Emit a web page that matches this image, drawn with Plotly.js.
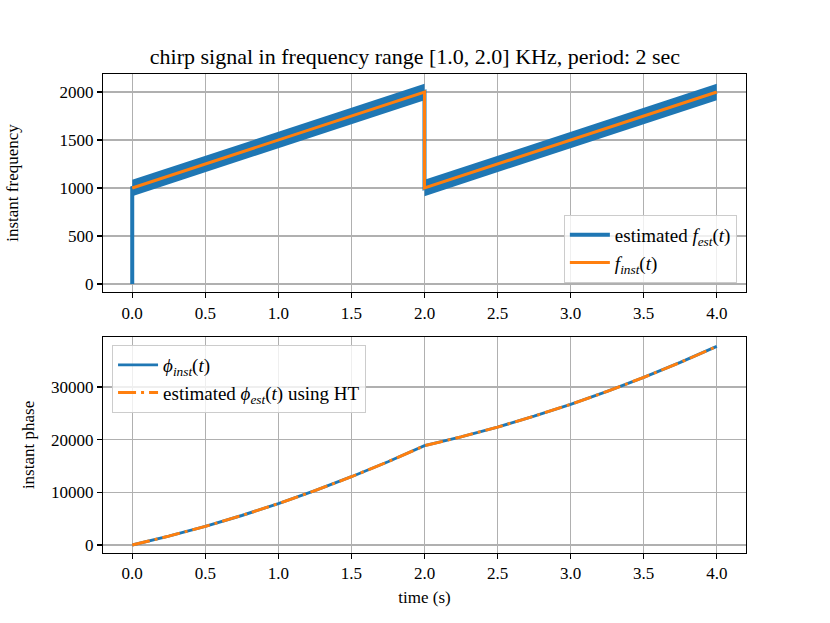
<!DOCTYPE html>
<html><head><meta charset="utf-8">
<script src="https://cdn.plot.ly/plotly-3.0.1.min.js"></script>
<style>html,body{margin:0;padding:0;background:#fff}</style>
</head><body>
<div id="chart" style="width:830px;height:623px"></div>
<script>
// ---- data ----
const fInstT = [0, 2, 2, 4];
const fInst  = [1000, 2000, 1000, 2000];
const fEstT  = [0, 0, 2, 2, 4];
const fEst   = [0, 1000, 2000, 1000, 2000];
// envelope of the jittery estimate (per chirp period)
const envT1 = [0, 2], envHi1 = [1085, 2085], envLo1 = [915, 1915];
const envT2 = [2, 4], envHi2 = [1085, 2085], envLo2 = [915, 1915];
const phT = [0, 0.25, 0.5, 0.75, 1.0, 1.25, 1.5, 1.75, 2.0, 2.25, 2.5, 2.75, 3.0, 3.25, 3.5, 3.75, 4.0];
const phInst = [0, 1669, 3534, 5596, 7854, 10308, 12959, 15806, 18850, 20519, 22384, 24446, 26704, 29158, 31809, 34656, 37699];
const phEst  = [0, 1669, 3534, 5596, 7854, 10308, 12959, 15806, 18850, 20519, 22384, 24446, 26704, 29158, 31809, 34656, 37699];
const xTicks = [0, 0.5, 1, 1.5, 2, 2.5, 3, 3.5, 4];
const xTickText = ['0.0','0.5','1.0','1.5','2.0','2.5','3.0','3.5','4.0'];
const fTicks = [0, 500, 1000, 1500, 2000];
const phTicks = [0, 10000, 20000, 30000];
const phTickText = ['0', '10000', '20000', '30000'];

const BLUE = '#1f77b4', ORANGE = '#ff7f0e';
const FONT = 'Liberation Serif, DejaVu Serif, serif';
const TS = 17;
const LS = 19;

function band(t, hi, lo) {
  return {x: t.concat(t.slice().reverse()), y: hi.concat(lo.slice().reverse()),
    xaxis: 'x', yaxis: 'y', type: 'scatter', mode: 'lines', fill: 'toself',
    fillcolor: BLUE, line: {color: BLUE, width: 0}, showlegend: false, hoverinfo: 'skip'};
}

const traces = [
  band(envT1, envHi1, envLo1),
  band(envT2, envHi2, envLo2),
  {x: fEstT, y: fEst, xaxis: 'x', yaxis: 'y', mode: 'lines', line: {color: BLUE, width: 4},
   name: 'estimated <i>f</i><sub><i>est</i></sub>(<i>t</i>)', legend: 'legend'},
  {x: fInstT, y: fInst, xaxis: 'x', yaxis: 'y', mode: 'lines', line: {color: ORANGE, width: 3},
   name: '<i>f</i><sub><i>inst</i></sub>(<i>t</i>)', legend: 'legend'},
  {x: phT, y: phInst, xaxis: 'x2', yaxis: 'y2', mode: 'lines', line: {color: BLUE, width: 2.9},
   name: '<i>ϕ</i><sub><i>inst</i></sub>(<i>t</i>)', legend: 'legend2'},
  {x: phT, y: phEst, xaxis: 'x2', yaxis: 'y2', mode: 'lines', line: {color: ORANGE, width: 2.9, dash: '18px,5px,3px,5px'},
   name: 'estimated <i>ϕ</i><sub><i>est</i></sub>(<i>t</i>) using HT', legend: 'legend2'}
];

const axCommon = {
  showgrid: true, gridcolor: '#b0b0b0', gridwidth: 1.3, zeroline: false,
  showline: true, linecolor: '#000', linewidth: 1.1, mirror: true,
  ticks: 'outside', ticklen: 5, tickwidth: 1.1, tickcolor: '#000',
  tickfont: {family: FONT, size: TS, color: '#000'}
};

const layout = {
  width: 830, height: 623, margin: {l: 0, r: 0, t: 0, b: 0},
  paper_bgcolor: '#fff', plot_bgcolor: '#fff',
  font: {family: FONT, color: '#000'},
  title: {text: 'chirp signal in frequency range [1.0, 2.0] KHz, period: 2 sec',
          font: {family: FONT, size: 22, color: '#000'}, x: 0.5, xanchor: 'center', y: 0.91, yanchor: 'middle'},
  xaxis: Object.assign({}, axCommon, {domain: [0.1241, 0.8988], range: [-0.2, 4.2], anchor: 'y',
    tickvals: xTicks, ticktext: xTickText}),
  yaxis: Object.assign({}, axCommon, {domain: [0.5313, 0.8812], range: [-83, 2187], anchor: 'x',
    tickvals: fTicks, ticktext: fTicks.map(String),
    title: {text: 'instant frequency', font: {family: FONT, size: TS}, standoff: 36}}),
  xaxis2: Object.assign({}, axCommon, {domain: [0.1241, 0.8988], range: [-0.2, 4.2], anchor: 'y2',
    tickvals: xTicks, ticktext: xTickText,
    title: {text: 'time (s)', font: {family: FONT, size: TS}, standoff: 8}}),
  yaxis2: Object.assign({}, axCommon, {domain: [0.1124, 0.4591], range: [-1520, 39490], anchor: 'x2',
    tickvals: phTicks, ticktext: phTickText,
    title: {text: 'instant phase', font: {family: FONT, size: TS}, standoff: 12}}),
  legend: {x: 0.8878, xanchor: 'right', y: 0.5458, yanchor: 'bottom', bgcolor: 'rgba(255,255,255,0.8)',
    bordercolor: '#cccccc', borderwidth: 1, font: {family: FONT, size: LS}, itemwidth: 40},
  legend2: {x: 0.135, xanchor: 'left', y: 0.4462, yanchor: 'top', bgcolor: 'rgba(255,255,255,0.8)',
    bordercolor: '#cccccc', borderwidth: 1, font: {family: FONT, size: LS}, itemwidth: 40},
  showlegend: true
};

Plotly.newPlot('chart', traces, layout, {displayModeBar: false, staticPlot: true});
</script>
</body></html>
